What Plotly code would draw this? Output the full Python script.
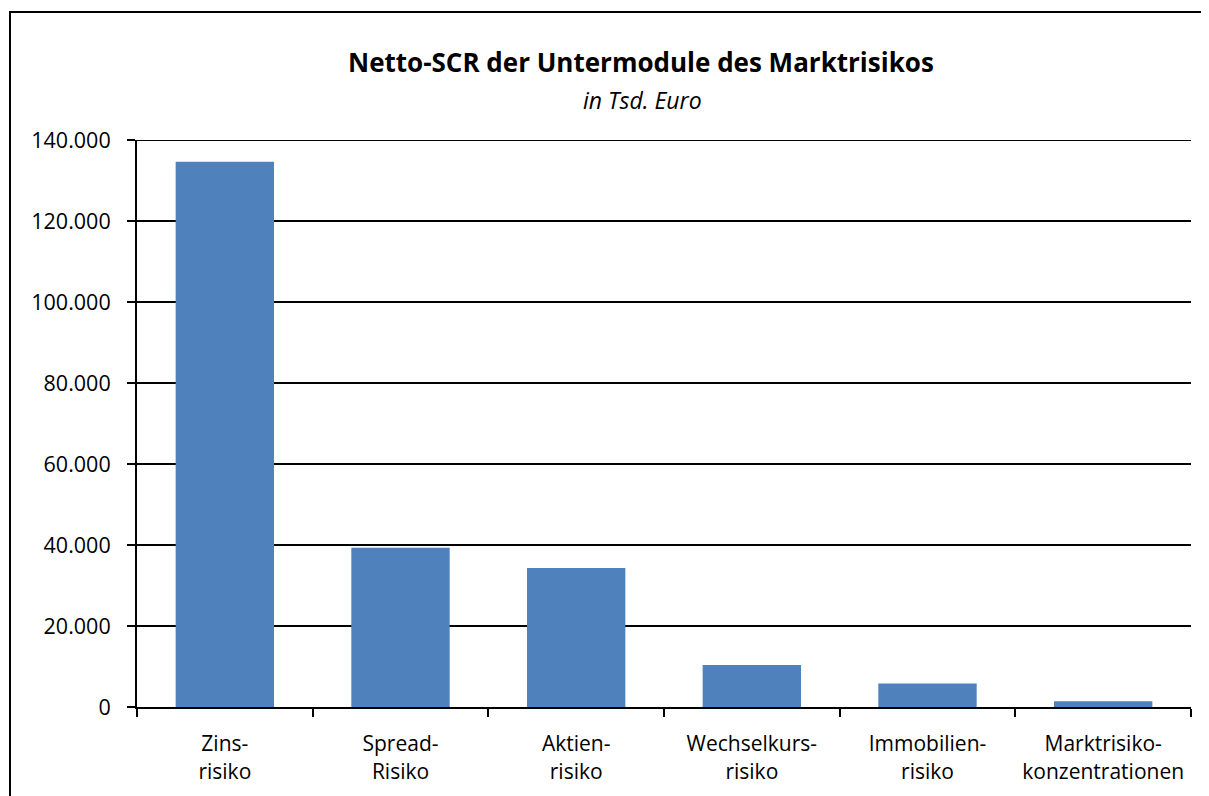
import plotly.graph_objects as go

categories = ["Zins-<br>risiko", "Spread-<br>Risiko", "Aktien-<br>risiko",
              "Wechselkurs-<br>risiko", "Immobilien-<br>risiko", "Marktrisiko-<br>konzentrationen"]
values = [134600, 39300, 34300, 10400, 5800, 1400]
y_ticks = [0, 20000, 40000, 60000, 80000, 100000, 120000, 140000]
y_max = 140000

FONT = "Open Sans"

fig = go.Figure(go.Bar(
    x=categories, y=values,
    marker=dict(color="#4F81BD", line=dict(width=0)),
    hoverinfo="x+y",
))

# page body has an 8px margin, so figure coords = screen coords - 8
W, H = 1201, 788
L, T = 129, 132
PR, PB = 1183, 699
R, B = W - PR, H - PB
pw, ph = PR - L, PB - T

def px_x(x):
    return (x - L) / pw

def px_y(y):
    return (PB - y) / ph

fig.update_layout(
    width=W, height=H,
    margin=dict(l=L, r=R, t=T, b=B, pad=0),
    paper_bgcolor="white", plot_bgcolor="white",
    separators=",.",
    bargap=0.44,
    showlegend=False,
    font=dict(family=FONT, color="black", size=21),
    xaxis=dict(
        showline=True, linecolor="black", linewidth=2,
        ticks="outside", tickson="boundaries", ticklen=8, tickwidth=2, tickcolor="black",
        tickfont=dict(family=FONT, size=21, color="black"),
        ticklabelstandoff=17,
        showgrid=False,
    ),
    yaxis=dict(
        range=[0, y_max], tickvals=y_ticks, tickformat=",d",
        showline=True, linecolor="black", linewidth=2,
        ticks="outside", ticklen=8, tickwidth=2, tickcolor="black",
        ticklabelstandoff=12,
        showgrid=True, gridcolor="black", gridwidth=1.5,
        zeroline=False,
        tickfont=dict(family=FONT, size=21.5, color="black"),
    ),
    annotations=[
        dict(text="<b>Netto-SCR der Untermodule des Marktrisikos</b>",
             xref="paper", yref="paper", x=px_x(633), y=px_y(54),
             xanchor="center", yanchor="middle", showarrow=False,
             font=dict(family=FONT, size=26, color="black")),
        dict(text="<i>in Tsd. Euro</i>",
             xref="paper", yref="paper", x=px_x(634), y=px_y(92),
             xanchor="center", yanchor="middle", showarrow=False,
             font=dict(family=FONT, size=23, color="black")),
    ],
    shapes=[
        dict(type="line", xref="paper", yref="y", x0=0, x1=1, y0=y_max, y1=y_max,
             line=dict(color="black", width=2), layer="above"),
        dict(type="rect", xref="paper", yref="paper", layer="below",
             x0=px_x(2), x1=px_x(W + 20), y0=px_y(H + 20), y1=px_y(4),
             line=dict(color="black", width=2), fillcolor="rgba(0,0,0,0)"),
    ],
)

fig.write_html("out.html")
